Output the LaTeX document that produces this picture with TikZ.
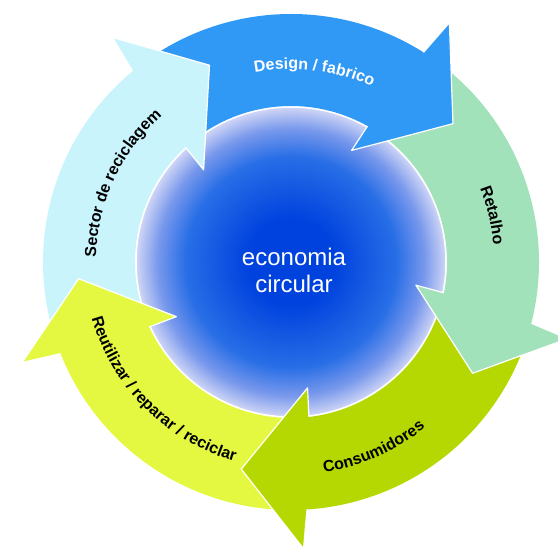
\documentclass[tikz,border=0pt]{standalone}
\usepackage{fontspec}
\setsansfont{Liberation Sans}
\usepackage{xcolor}
\usetikzlibrary{decorations.text}

\definecolor{designblue}{RGB}{48,152,245}
\definecolor{retalhomint}{RGB}{162,226,186}
\definecolor{consumolive}{RGB}{182,216,2}
\definecolor{reuselime}{RGB}{228,248,66}
\definecolor{sectorcyan}{RGB}{202,244,252}
\definecolor{ballcore}{RGB}{0,66,222}
\definecolor{ballmid}{RGB}{40,110,230}
\definecolor{ballsoft}{RGB}{120,152,236}
\definecolor{ballrim}{RGB}{208,214,246}
\pgfdeclareradialshading{ecoball}{\pgfpoint{0bp}{0bp}}{color(0bp)=(ballcore); color(7bp)=(ballcore); color(17bp)=(ballmid); color(21.5bp)=(ballsoft); color(25bp)=(ballrim); color(50bp)=(ballrim)}
\newcommand{\lblfont}{\fontsize{16}{19}\selectfont\sffamily\bfseries}

\begin{document}
\begin{tikzpicture}[x=1pt, y=1pt,
    head/.style={draw=white, line width=1.2pt, line join=round},
    curvetext/.style={decorate, decoration={text along path, text align=center, text={|\lblfont|#1}}},
]
\useasboundingbox (0,0) rectangle (558,553);

\begin{scope}[shift={(291,291)}]
% Centre: shaded ball
\shade[shading=ecoball] (0,0) circle[radius=155];
\draw[white, line width=1.5pt] (0,0) circle[radius=155];
\node[font=\fontsize{24}{27}\selectfont\sffamily, text=white, align=center] (eco) at (3,-8) {economia\\circular};

% Ring: arrow bodies
\fill[designblue] (56:248) arc[start angle=56, end angle=128, radius=248] -- (128:156) arc[start angle=128, end angle=56, radius=156] -- cycle;
\fill[retalhomint] (-16:248) arc[start angle=-16, end angle=56, radius=248] -- (56:156) arc[start angle=56, end angle=-16, radius=156] -- cycle;
\fill[consumolive] (-88:248) arc[start angle=-88, end angle=-16, radius=248] -- (-16:156) arc[start angle=-16, end angle=-88, radius=156] -- cycle;
\fill[reuselime] (-160:248) arc[start angle=-160, end angle=-88, radius=248] -- (-88:156) arc[start angle=-88, end angle=-160, radius=156] -- cycle;
\fill[sectorcyan] (128:248) arc[start angle=128, end angle=200, radius=248] -- (200:156) arc[start angle=200, end angle=128, radius=156] -- cycle;

% Arrow heads (on top of the next tail)
\filldraw[head, fill=designblue] (60.6:156) -- (61.5:127) -- (40.5:213) -- (56.5:287) -- (57.7:248);
\filldraw[head, fill=retalhomint] (-11.4:156) -- (-10.5:127) -- (-31.5:213) -- (-15.5:287) -- (-14.3:248);
\filldraw[head, fill=consumolive] (-83.4:156) -- (-82.5:127) -- (-103.5:213) -- (-87.5:287) -- (-86.3:248);
\filldraw[head, fill=reuselime] (-155.4:156) -- (-154.5:127) -- (-175.5:213) -- (-159.5:287) -- (-158.3:248);
\filldraw[head, fill=sectorcyan] (132.6:156) -- (133.5:127) -- (112.5:213) -- (128.5:287) -- (129.7:248);

% Labels along the ring
\path[curvetext={Design / fabrico}, decoration={text color=white}] (125:193) arc[start angle=125, end angle=41, radius=193];
\path[curvetext={Retalho}] (43:203) arc[start angle=43, end angle=-17, radius=203];
\path[curvetext={Consumidores}] (-96:213) arc[start angle=-96, end angle=-36, radius=213];
\path[curvetext={Reutilizar / reparar / reciclar}] (180:207) arc[start angle=180, end angle=270, radius=207];
\path[curvetext={Sector de reciclagem}] (200:195) arc[start angle=200, end angle=110, radius=195];
\end{scope}
\end{tikzpicture}
\end{document}
